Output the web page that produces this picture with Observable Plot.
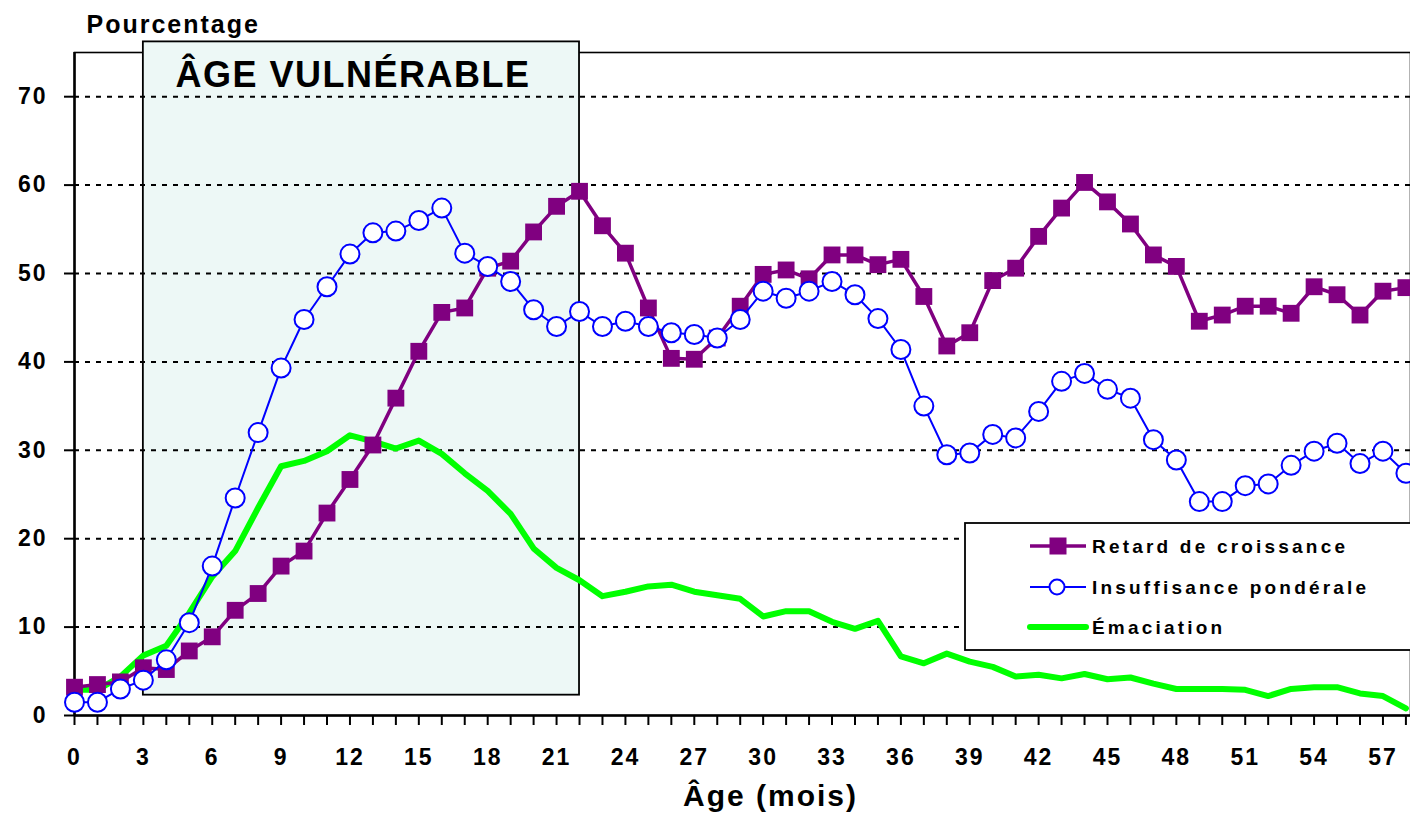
<!DOCTYPE html>
<html>
<head>
<meta charset="utf-8">
<script src="https://cdn.jsdelivr.net/npm/d3@7"></script>
<script src="https://cdn.jsdelivr.net/npm/@observablehq/plot@0.6"></script>
<style>
  html, body { margin: 0; padding: 0; background: #ffffff; }
  svg { display: block; }
</style>
</head>
<body>
<div id="chart"></div>
<script>
// ---- Data ----
const months = [0,1,2,3,4,5,6,7,8,9,10,11,12,13,14,15,16,17,18,19,20,21,22,23,24,25,26,27,28,29,30,31,32,33,34,35,36,37,38,39,40,41,42,43,44,45,46,47,48,49,50,51,52,53,54,55,56,57,58];

const retard = [3.2,3.5,3.8,5.4,5.2,7.3,8.9,11.9,13.8,16.9,18.6,22.9,26.7,30.6,35.9,41.2,45.6,46.1,50.6,51.4,54.7,57.6,59.3,55.4,52.3,46.1,40.4,40.3,42.7,46.3,49.9,50.4,49.4,52.1,52.1,51.0,51.6,47.4,41.8,43.3,49.2,50.6,54.2,57.4,60.3,58.1,55.6,52.1,50.8,44.6,45.3,46.3,46.3,45.5,48.5,47.6,45.3,48.0,48.4];

const insuffisance = [1.5,1.5,3.0,4.0,6.3,10.5,16.9,24.6,32.0,39.3,44.8,48.5,52.2,54.6,54.8,56.0,57.4,52.3,50.8,49.1,45.9,44.0,45.7,44.0,44.6,44.0,43.3,43.1,42.7,44.8,48.0,47.2,48.0,49.1,47.6,44.9,41.4,35.0,29.5,29.7,31.8,31.4,34.4,37.8,38.7,36.9,35.9,31.2,28.9,24.2,24.2,26.0,26.2,28.3,29.9,30.8,28.5,29.9,27.4];

const emaciation = [2.9,2.9,4.4,6.8,7.9,11.6,15.7,18.6,23.5,28.2,28.8,29.9,31.7,31.0,30.2,31.1,29.6,27.4,25.4,22.8,18.9,16.7,15.3,13.5,14.0,14.6,14.8,14.0,13.6,13.2,11.2,11.8,11.8,10.6,9.8,10.7,6.7,5.9,7.0,6.1,5.5,4.4,4.6,4.2,4.7,4.1,4.3,3.6,3.0,3.0,3.0,2.9,2.2,3.0,3.2,3.2,2.5,2.2,0.8];

const seriesNames = ["Retard de croissance", "Insuffisance pondérale", "Émaciation"];
const xTickLabels = [0,3,6,9,12,15,18,21,24,27,30,33,36,39,42,45,48,51,54,57];
const yTickLabels = [0,10,20,30,40,50,60,70];
const gridValues = [10,20,30,40,50,60,70];
const vulnerableLabel = "ÂGE VULNÉRABLE";
const vulnerableStart = 3;
const vulnerableEnd = 22;
const vulnerableLow = 2.3;
const vulnerableHigh = 76.2;
const yTitle = "Pourcentage";
const xTitle = "Âge (mois)";

// ---- Build table ----
const rows = months.map((m, i) => ({
  age: m,
  retard: retard[i],
  insuffisance: insuffisance[i],
  emaciation: emaciation[i]
}));
const band = [{start: vulnerableStart, end: vulnerableEnd, low: vulnerableLow, high: vulnerableHigh}];

const FONT = "'Liberation Sans', Arial, Helvetica, sans-serif";
const PURPLE = "#800080", BLUE = "#0000ff", GREEN = "#00ff00";

const chart = Plot.plot({
  width: 1410,
  height: 815,
  marginLeft: 74,
  marginRight: 0,
  marginTop: 52,
  marginBottom: 100,
  x: {domain: [0, 58.2]},
  y: {domain: [0, 75]},
  style: {fontFamily: FONT, background: "#ffffff", color: "black", overflow: "visible"},
  marks: [
    Plot.frame({stroke: "black", strokeWidth: 1.6}),
    Plot.rect(band, {x1: "start", x2: "end", y1: "low", y2: "high", fill: "#edf8f6", stroke: "black", strokeWidth: 1.8}),
    Plot.ruleY(gridValues, {stroke: "black", strokeWidth: 2, strokeDasharray: "5,6"}),
    Plot.ruleX([0], {stroke: "black", strokeWidth: 2.5}),
    Plot.ruleY([0], {stroke: "black", strokeWidth: 2.5}),
    Plot.axisY({ticks: yTickLabels, tickSize: 10, tickPadding: 17, strokeWidth: 2, fontSize: 23, fontWeight: "bold", label: null}),
    Plot.axisX({ticks: months, tickSize: 10, strokeWidth: 2, tickFormat: () => "", label: null}),
    Plot.axisX({ticks: xTickLabels, tickSize: 0, tickPadding: 33, fontSize: 23, fontWeight: "bold", label: null}),
    Plot.line(rows, {x: "age", y: "emaciation", stroke: GREEN, strokeWidth: 6}),
    Plot.line(rows, {x: "age", y: "retard", stroke: PURPLE, strokeWidth: 3.5}),
    Plot.dot(rows, {x: "age", y: "retard", symbol: "square", r: 9.5, fill: PURPLE}),
    Plot.line(rows, {x: "age", y: "insuffisance", stroke: BLUE, strokeWidth: 2}),
    Plot.dot(rows, {x: "age", y: "insuffisance", r: 9.5, fill: "white", stroke: BLUE, strokeWidth: 2}),
    Plot.text([yTitle], {frameAnchor: "top-left", dx: 12, dy: -28, textAnchor: "start", lineAnchor: "middle", fontSize: 25, fontWeight: "bold", fill: "black"}),
    Plot.text([vulnerableLabel], {frameAnchor: "top-left", dx: 101, dy: 23, textAnchor: "start", lineAnchor: "middle", fontSize: 36, fontWeight: "bold", fill: "black"}),
    Plot.text([xTitle], {frameAnchor: "bottom", dx: 28, dy: 81, textAnchor: "middle", lineAnchor: "middle", fontSize: 30, fontWeight: "bold", fill: "black"})
  ]
});

const svg = d3.select(chart);
svg.selectAll("text").attr("letter-spacing", "2px");
svg.selectAll("text").filter(function() { return this.textContent === vulnerableLabel; }).attr("letter-spacing", "1.5px");

// ---- Legend ----
const lg = svg.append("g").attr("font-family", FONT).attr("text-anchor", "start");
lg.append("rect")
  .attr("x", 965).attr("y", 523).attr("width", 446).attr("height", 127)
  .attr("fill", "white").attr("stroke", "black").attr("stroke-width", 1.8);
const rowY = [546, 587, 627];
const styles = [
  {stroke: PURPLE, width: 3.5, marker: "square"},
  {stroke: BLUE, width: 2, marker: "circle"},
  {stroke: GREEN, width: 6, marker: null}
];
seriesNames.forEach((name, i) => {
  const y = rowY[i], s = styles[i];
  lg.append("line").attr("x1", 1030).attr("x2", 1086).attr("y1", y).attr("y2", y)
    .attr("stroke", s.stroke).attr("stroke-width", s.width).attr("stroke-linecap", s.marker ? "butt" : "round");
  if (s.marker === "square") {
    lg.append("rect").attr("x", 1058 - 8.5).attr("y", y - 8.5).attr("width", 17).attr("height", 17).attr("fill", PURPLE);
  } else if (s.marker === "circle") {
    lg.append("circle").attr("cx", 1057).attr("cy", y).attr("r", 7.5).attr("fill", "white").attr("stroke", BLUE).attr("stroke-width", 2);
  }
  lg.append("text").attr("x", 1092).attr("y", y).attr("dy", "0.35em")
    .attr("text-anchor", "start")
    .attr("font-size", 19).attr("font-weight", "bold").attr("letter-spacing", "3.2px")
    .attr("fill", "black").text(name);
});

document.getElementById("chart").appendChild(chart);
</script>
</body>
</html>
